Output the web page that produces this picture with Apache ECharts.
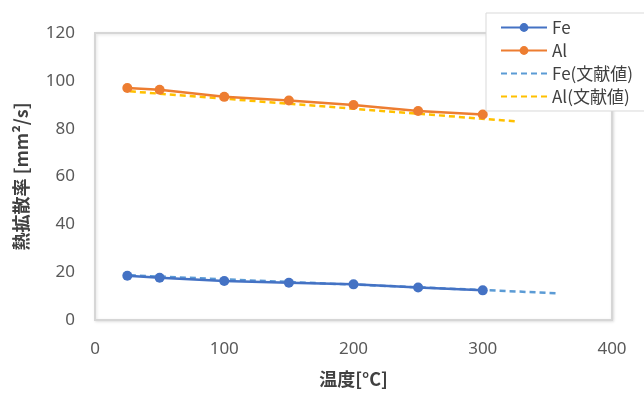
<!DOCTYPE html>
<html><head><meta charset="utf-8">
<script src="https://cdn.jsdelivr.net/npm/echarts@6/dist/echarts.min.js"></script>
<style>html,body{margin:0;padding:0;background:#fff}#c{width:644px;height:393px}</style>
</head><body><div id="c"></div>
<script>
const temps = [25, 50, 100, 150, 200, 250, 300];
const feValues = [18.5, 17.7, 16.3, 15.6, 14.9, 13.6, 12.4];
const alValues = [97.0, 96.3, 93.3, 91.8, 89.9, 87.4, 85.9];
const feLitTemps = [27, 127, 227, 327, 357];
const feLitValues = [18.7, 16.4, 14.2, 11.9, 11.2];
const alLitTemps = [27, 127, 227, 327];
const alLitValues = [95.6, 91.4, 87.2, 83.0];
const xTicks = [0, 100, 200, 300, 400];
const yTicks = [0, 20, 40, 60, 80, 100, 120];

const pair = (xs, ys) => xs.map((x, i) => [x, ys[i]]);
const font = '"Noto Sans CJK JP", "Noto Sans", sans-serif';
const numFont = '"Noto Sans", "Liberation Sans", sans-serif';
const chart = echarts.init(document.getElementById('c'));
chart.setOption({
  animation: false,
  textStyle: { fontFamily: font },
  grid: { left: 95, right: 32, top: 33, bottom: 71, show: true, borderColor: '#d6d6d6', borderWidth: 2, backgroundColor: '#fff',
    shadowColor: 'rgba(0,0,0,0.12)', shadowBlur: 3, shadowOffsetX: 1, shadowOffsetY: 1 },
  legend: {
    orient: 'vertical', left: 486, top: 13,
    padding: [6, 60, 6, 14], itemGap: 6, itemWidth: 46, itemHeight: 11,
    backgroundColor: '#fff', borderColor: '#d9d9d9', borderWidth: 1,
    textStyle: { fontSize: 17, color: '#404040', fontFamily: font },
    data: ['Fe', 'Al',
      { name: 'Fe(文献値)', itemStyle: { opacity: 0 } },
      { name: 'Al(文献値)', itemStyle: { opacity: 0 } }]
  },
  xAxis: {
    type: 'value', min: 0, max: 400, interval: 100,
    name: '温度[°C]', nameLocation: 'middle', nameGap: 50,
    nameTextStyle: { fontSize: 18, fontWeight: 'bold', color: '#404040', fontFamily: font },
    axisLine: { show: false }, axisTick: { show: false }, splitLine: { show: false },
    axisLabel: { fontSize: 17, color: '#595959', margin: 21, fontFamily: numFont, formatter: v => xTicks.includes(v) ? String(v) : '' }
  },
  yAxis: {
    type: 'value', min: 0, max: 120, interval: 20,
    name: '熱拡散率 [mm²/s]', nameLocation: 'middle', nameGap: 65,
    nameTextStyle: { fontSize: 18, fontWeight: 'bold', color: '#404040', fontFamily: font },
    axisLine: { show: false }, axisTick: { show: false }, splitLine: { show: false },
    axisLabel: { fontSize: 17, color: '#595959', margin: 20, fontFamily: numFont, formatter: v => yTicks.includes(v) ? String(v) : '' }
  },
  series: [
    { name: 'Fe', type: 'line', data: pair(temps, feValues), symbol: 'circle', symbolSize: 10,
      itemStyle: { color: '#4472C4' }, lineStyle: { width: 2.5, color: '#4472C4' }, z: 3 },
    { name: 'Al', type: 'line', data: pair(temps, alValues), symbol: 'circle', symbolSize: 10,
      itemStyle: { color: '#ED7D31' }, lineStyle: { width: 2.5, color: '#ED7D31' }, z: 3 },
    { name: 'Fe(文献値)', type: 'line', data: pair(feLitTemps, feLitValues), symbol: 'none',
      itemStyle: { color: '#5B9BD5' }, lineStyle: { width: 2.5, color: '#5B9BD5', type: [6, 4] }, z: 2 },
    { name: 'Al(文献値)', type: 'line', data: pair(alLitTemps, alLitValues), symbol: 'none',
      itemStyle: { color: '#FFC000' }, lineStyle: { width: 2.5, color: '#FFC000', type: [6, 4] }, z: 2 }
  ]
});
</script></body></html>
